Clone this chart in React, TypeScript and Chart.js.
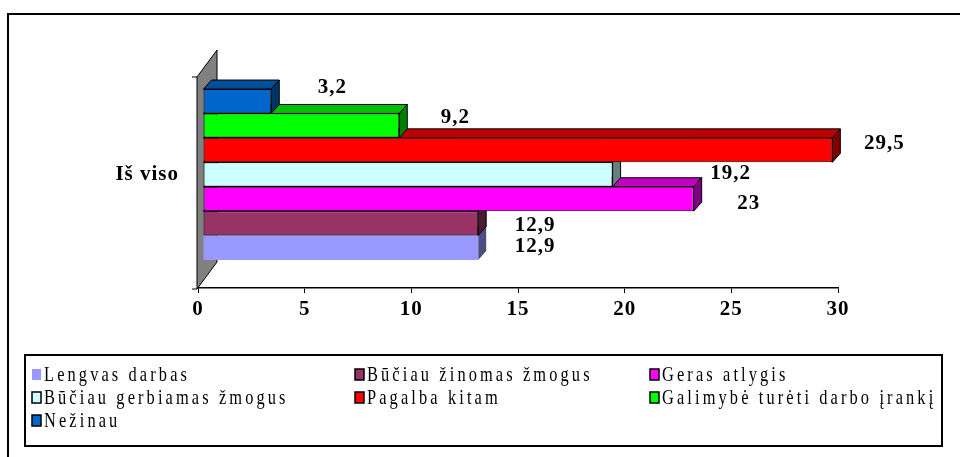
import React, { useEffect, useRef } from 'react';
import { Chart, registerables } from 'chart.js';

Chart.register(...registerables);

// ---------- data ----------
const categories = ['Iš viso'];
const seriesNames = [
  'Lengvas darbas',
  'Būčiau žinomas žmogus',
  'Geras atlygis',
  'Būčiau gerbiamas žmogus',
  'Pagalba kitam',
  'Galimybė turėti darbo įrankį',
  'Nežinau',
];
const seriesValues = [12.9, 12.9, 23, 19.2, 29.5, 9.2, 3.2];
const xTicks = [0, 5, 10, 15, 20, 25, 30];

// ---------- styles ----------
const seriesColors = ['#9999FF', '#993366', '#FF00FF', '#CCFFFF', '#FF0000', '#00FF00', '#0066CC'];
const seriesBorder = [0, 1, 1, 1, 1, 1, 1];
// label offsets (dx from bar end, dy from bar centre), mimicking Excel's 3D label placement
const labelShift: [number, number][] = [
  [57, -1], [57, 2], [55, 5], [118, -1], [52, -7], [56, -8], [61, -14],
];

const DX = 8;
const DY = 9;
const SHIFT = 5;
const SERIF = '"Liberation Serif", "Times New Roman", serif';

function shade(hex: string, f: number) {
  const n = parseInt(hex.slice(1), 16);
  const r = Math.round(((n >> 16) & 255) * f);
  const g = Math.round(((n >> 8) & 255) * f);
  const b = Math.round((n & 255) * f);
  return `rgb(${r},${g},${b})`;
}

const fmt = (v: number) => String(v).replace('.', ',');

const threeD = {
  id: 'threeD',
  beforeDraw(chart: any) {
    const ctx = chart.ctx;
    ctx.letterSpacing = '1px';
    // outer frame
    ctx.save();
    ctx.strokeStyle = '#000';
    ctx.lineWidth = 2;
    ctx.beginPath();
    ctx.moveTo(8, 470);
    ctx.lineTo(8, 14);
    ctx.lineTo(980, 14);
    ctx.stroke();
    ctx.restore();
  },
  beforeDatasetsDraw(chart: any) {
    const { ctx, chartArea } = chart;
    const fx = chartArea.left - 1;
    const ty = chartArea.top + 16;
    const by = chartArea.bottom + 1;
    ctx.save();
    ctx.fillStyle = '#808080';
    ctx.strokeStyle = '#000';
    ctx.lineWidth = 1;
    ctx.beginPath();
    ctx.moveTo(fx, ty);
    ctx.lineTo(fx + 20, ty - 27);
    ctx.lineTo(fx + 20, by - 27);
    ctx.lineTo(fx, by);
    ctx.closePath();
    ctx.fill();
    ctx.stroke();
    // small axis ticks
    ctx.beginPath();
    ctx.moveTo(fx - 5, ty);
    ctx.lineTo(fx, ty);
    ctx.moveTo(fx - 5, by);
    ctx.lineTo(fx, by);
    ctx.stroke();
    ctx.restore();
    ctx.save();
    ctx.translate(SHIFT, 0);
  },
  beforeDatasetDraw(chart: any, args: any) {
    const ctx = chart.ctx;
    const ds = chart.data.datasets[args.index];
    const si = ds.seriesIndex;
    const col = seriesColors[si];
    const bw = seriesBorder[si];
    args.meta.data.forEach((el: any) => {
      const { x, y, base, height } = el.getProps(['x', 'y', 'base', 'height'], true);
      const top = y - height / 2;
      const bot = y + height / 2;
      ctx.save();
      ctx.lineWidth = 1;
      ctx.strokeStyle = '#000';
      ctx.lineJoin = 'round';
      // top face
      ctx.beginPath();
      ctx.moveTo(base, top);
      ctx.lineTo(base + DX, top - DY);
      ctx.lineTo(x + DX, top - DY);
      ctx.lineTo(x, top);
      ctx.closePath();
      ctx.fillStyle = shade(col, 0.75);
      ctx.fill();
      if (bw) ctx.stroke();
      // side face
      ctx.beginPath();
      ctx.moveTo(x, top);
      ctx.lineTo(x + DX, top - DY);
      ctx.lineTo(x + DX, bot - DY);
      ctx.lineTo(x, bot);
      ctx.closePath();
      ctx.fillStyle = shade(col, 0.5);
      ctx.fill();
      if (bw) ctx.stroke();
      ctx.restore();
    });
  },
  afterDatasetsDraw(chart: any) {
    const ctx = chart.ctx;
    ctx.restore();
    ctx.save();
    ctx.font = `bold 21px ${SERIF}`;
    ctx.letterSpacing = '1px';
    ctx.fillStyle = '#000';
    ctx.textAlign = 'center';
    ctx.textBaseline = 'middle';
    chart.data.datasets.forEach((ds: any, i: number) => {
      const meta = chart.getDatasetMeta(i);
      const si = ds.seriesIndex;
      meta.data.forEach((el: any, j: number) => {
        const { x, y } = el.getProps(['x', 'y'], true);
        const [ox, oy] = labelShift[si];
        ctx.fillText(fmt(ds.data[j]), x + SHIFT + ox, y + oy);
      });
    });
    ctx.restore();
  },
  afterDraw(chart: any) {
    const ctx = chart.ctx;
    ctx.save();
    ctx.strokeStyle = '#000';
    ctx.lineWidth = 2;
    ctx.strokeRect(25, 355, 917, 91);
    const cols = [32, 355, 650];
    const rows = [374, 397, 420];
    seriesNames.forEach((name, i) => {
      const cx = cols[i % 3];
      const cy = rows[Math.floor(i / 3)];
      ctx.fillStyle = seriesColors[i];
      ctx.fillRect(cx, cy - 5, 9, 11);
      if (seriesBorder[i]) {
        ctx.lineWidth = 1.5;
        ctx.strokeRect(cx, cy - 5, 9, 11);
      }
      ctx.save();
      ctx.translate(cx + 12, cy + 1);
      ctx.scale(0.78, 1);
      ctx.font = `21px ${SERIF}`;
      ctx.letterSpacing = '4px';
      ctx.fillStyle = '#000';
      ctx.textAlign = 'left';
      ctx.textBaseline = 'middle';
      ctx.fillText(name, 0, 0);
      ctx.restore();
    });
    ctx.restore();
  },
};

export default function App() {
  const ref = useRef<HTMLCanvasElement | null>(null);
  useEffect(() => {
    if (!ref.current) return;
    const order = seriesNames.map((_, i) => i).reverse();
    const chart = new Chart(ref.current, {
      type: 'bar',
      data: {
        labels: categories,
        datasets: order.map((i) => ({
          label: seriesNames[i],
          seriesIndex: i,
          data: [seriesValues[i]],
          backgroundColor: seriesColors[i],
          borderColor: '#000',
          borderWidth: seriesBorder[i],
          borderSkipped: false,
          barPercentage: 1,
          categoryPercentage: 0.753,
          clip: false,
        })) as any,
      },
      options: {
        indexAxis: 'y',
        animation: false,
        responsive: false,
        devicePixelRatio: 1,
        layout: { padding: { left: 0, right: 122, top: 61, bottom: 0 } },
        plugins: { legend: { display: false }, tooltip: { enabled: false } },
        scales: {
          x: {
            type: 'linear',
            min: xTicks[0],
            max: xTicks[xTicks.length - 1],
            afterFit: (s: any) => { s.height = 169; },
            afterBuildTicks: (s: any) => { s.ticks = xTicks.map((v) => ({ value: v })); },
            ticks: {
              color: '#000',
              font: { family: SERIF, size: 21, weight: 'bold' },
              padding: 4,
              maxRotation: 0,
            },
            grid: { drawOnChartArea: false, drawTicks: true, tickLength: 5, color: '#000', lineWidth: 1 },
            border: { display: true, color: '#000', width: 1.5 },
          },
          y: {
            type: 'category',
            afterFit: (s: any) => { s.width = 198; },
            ticks: {
              color: '#000',
              font: { family: SERIF, size: 21, weight: 'bold' },
              padding: 11,
            },
            grid: { display: false },
            border: { display: false },
          },
        },
      } as any,
      plugins: [threeD],
    });
    return () => chart.destroy();
  }, []);
  return (
    <div style={{ position: 'fixed', left: 0, top: 0, width: 960, height: 457, background: '#fff' }}>
      <canvas ref={ref} width={960} height={457} style={{ display: 'block' }} />
    </div>
  );
}
